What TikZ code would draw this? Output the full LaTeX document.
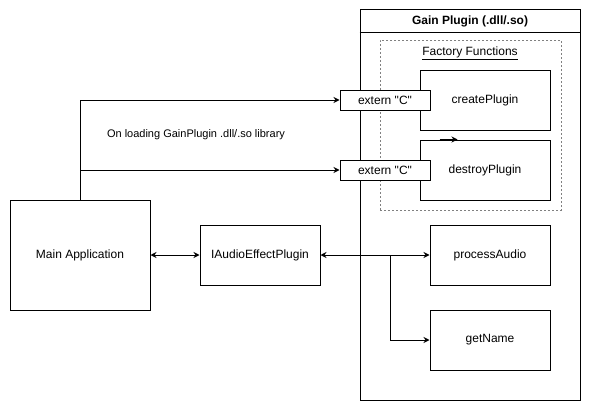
\documentclass[tikz,border=0pt]{standalone}
\usepackage{fontspec}
\setmainfont{Liberation Sans}
\usetikzlibrary{arrows.meta}
\begin{document}
\begin{tikzpicture}[x=1pt,y=-1pt,line width=1pt,
    box/.style={draw,fill=white,inner sep=0pt,font=\fontsize{12}{14}\selectfont},
    ar/.style={-{Stealth[length=6pt,width=6pt,inset=2pt]}},
    arboth/.style={{Stealth[length=6pt,width=6pt,inset=2pt]}-{Stealth[length=6pt,width=6pt,inset=2pt]}}]
        \useasboundingbox (0,0) rectangle (591,412);
        % plugin container
        \node at (470,205)[draw,minimum width=220pt,minimum height=390pt] (plugin) {};
        \draw (plugin.north west) ++(0,23) -- ++(220,0);
        \node at (470,21.5)[font=\bfseries\fontsize{12}{14}\selectfont] (title) {Gain Plugin (.dll/.so)};
        \node at (470.5,125)[draw=gray,line width=0.7pt,dash pattern=on 2pt off 2pt,minimum width=181pt,minimum height=170pt] (factory) {};
        \node at (470,53)[font=\fontsize{12}{14}\selectfont] (factorylabel) {\underline{Factory Functions}};
        % functions
        \node at (485,100)[box,minimum width=130pt,minimum height=60pt] (create) {createPlugin};
        \node at (485,170)[box,minimum width=130pt,minimum height=60pt] (destroy) {destroyPlugin};
        \node at (385,100)[box,minimum width=90pt,minimum height=20pt] (externA) {extern \textquotedbl C\textquotedbl};
        \node at (385,170)[box,minimum width=90pt,minimum height=20pt] (externB) {extern \textquotedbl C\textquotedbl};
        \node at (490,255)[box,minimum width=120pt,minimum height=60pt] (process) {processAudio};
        \node at (490,340)[box,minimum width=120pt,minimum height=60pt] (getname) {getName};
        % application side
        \node at (80,255)[box,minimum width=140pt,minimum height=110pt] (main) {Main Application};
        \node at (260,255)[box,minimum width=120pt,minimum height=60pt] (iface) {IAudioEffectPlugin};
        \coordinate (split) at (390,255);
        % connectors
        \draw[ar] (main.north) |- (externA.west);
        \draw[ar] (main.north) |- (externB.west);
        \node at (196,135)[font=\fontsize{11}{13}\selectfont] (loadlabel) {On loading GainPlugin .dll/.so library};
        \draw[arboth] (main.east) -- (iface.west);
        \draw[arboth] (iface.east) -- (process.west);
        \draw[ar] (split) |- (getname.west);
        \draw[ar] ([xshift=20pt]destroy.north west) -- ([xshift=38pt]destroy.north west);
\end{tikzpicture}
\end{document}
